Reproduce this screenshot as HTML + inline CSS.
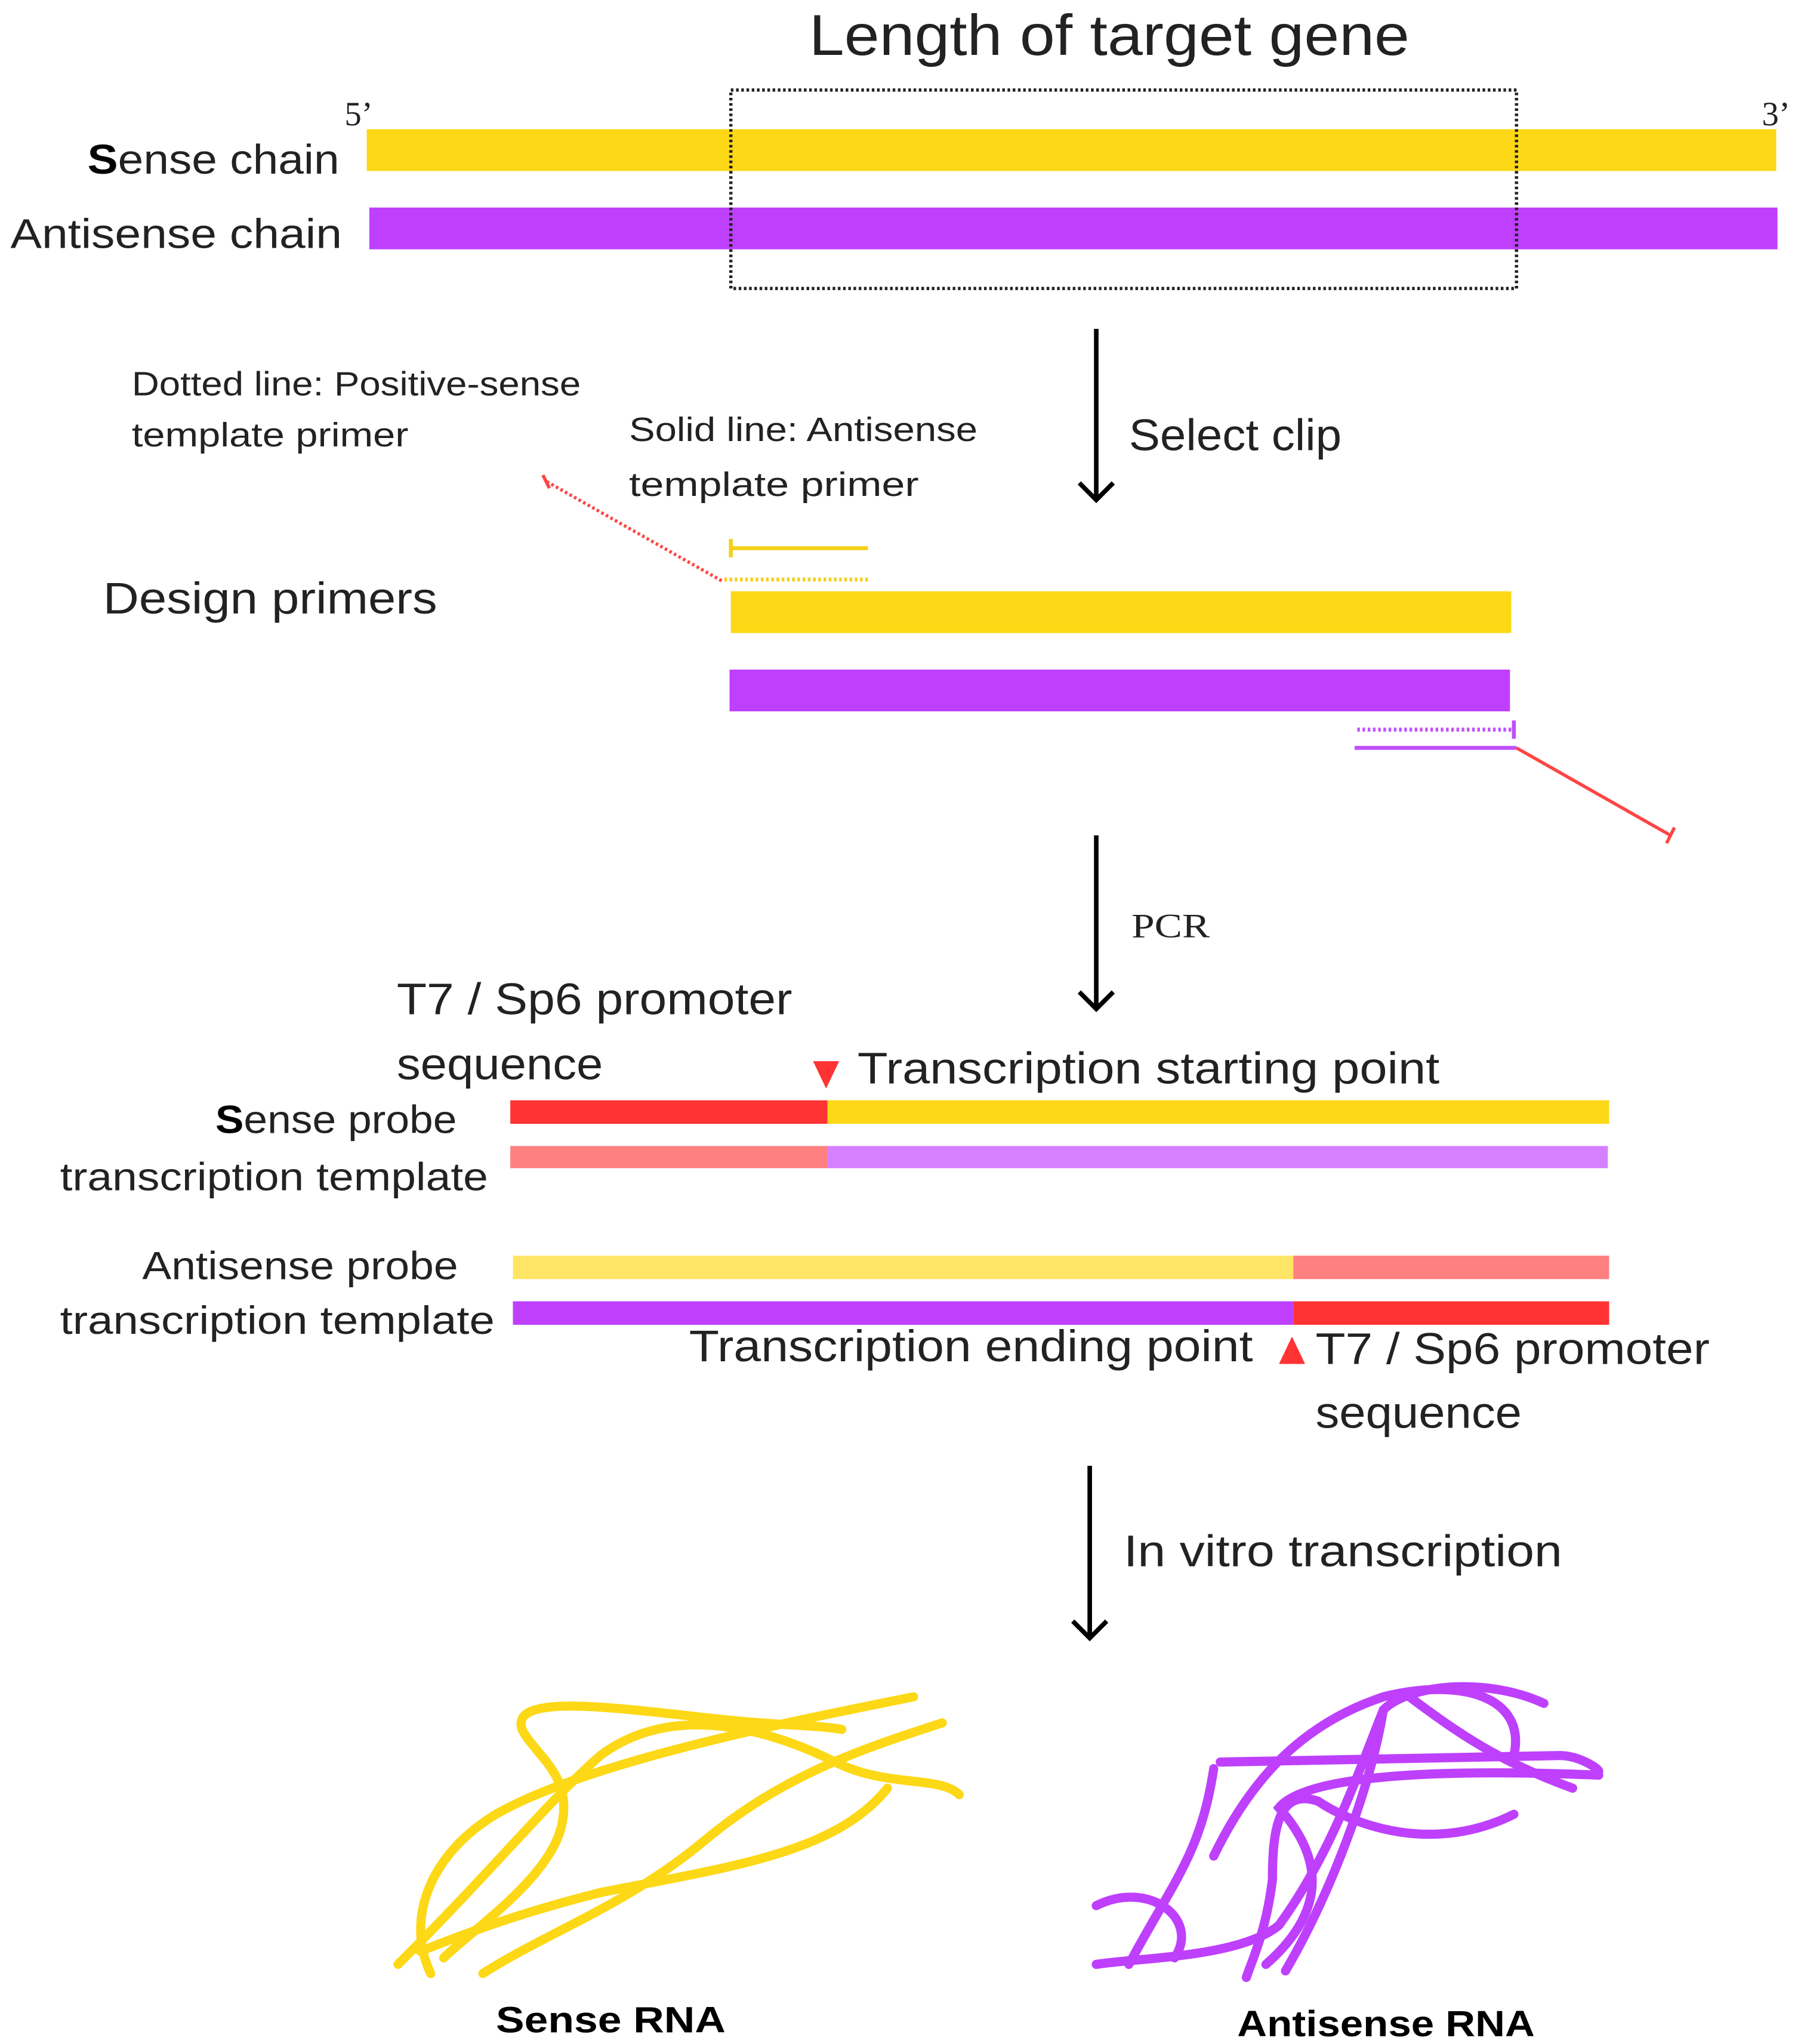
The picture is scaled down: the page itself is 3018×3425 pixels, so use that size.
<!DOCTYPE html>
<html><head><meta charset="utf-8"><style>html,body{margin:0;padding:0;background:#fff}svg{display:block}</style></head>
<body>
<svg width="3018" height="3425" viewBox="0 0 1380 1566" preserveAspectRatio="none" xmlns="http://www.w3.org/2000/svg">
<rect width="1380" height="1566" fill="#fff"/>
<g font-family="Liberation Sans, sans-serif" fill="#222">
<text x="620" y="42" font-size="44" textLength="460" lengthAdjust="spacingAndGlyphs">Length of target gene</text>
<text x="264" y="96" font-size="26" font-family="Liberation Serif, serif">5’</text>
<text x="1350" y="96" font-size="26" font-family="Liberation Serif, serif">3’</text>
<text x="67" y="133" font-size="32" textLength="193" lengthAdjust="spacingAndGlyphs"><tspan font-weight="bold" fill="#000">S</tspan>ense chain</text>
<text x="8" y="190" font-size="32" textLength="254" lengthAdjust="spacingAndGlyphs">Antisense chain</text>
<text x="101" y="303" font-size="26" textLength="344" lengthAdjust="spacingAndGlyphs">Dotted line: Positive-sense</text>
<text x="101" y="342" font-size="26" textLength="212" lengthAdjust="spacingAndGlyphs">template primer</text>
<text x="482" y="338" font-size="26" textLength="267" lengthAdjust="spacingAndGlyphs">Solid line: Antisense</text>
<text x="482" y="380" font-size="26" textLength="222" lengthAdjust="spacingAndGlyphs">template primer</text>
<text x="865" y="345" font-size="34" textLength="163" lengthAdjust="spacingAndGlyphs">Select clip</text>
<text x="79" y="470" font-size="34" textLength="256" lengthAdjust="spacingAndGlyphs">Design primers</text>
<text x="867" y="718" font-size="26" font-family="Liberation Serif, serif" textLength="60" lengthAdjust="spacingAndGlyphs">PCR</text>
<text x="304" y="777" font-size="34" textLength="303" lengthAdjust="spacingAndGlyphs">T7 / Sp6 promoter</text>
<text x="304" y="827" font-size="34" textLength="158" lengthAdjust="spacingAndGlyphs">sequence</text>
<text x="657" y="830" font-size="34" textLength="446" lengthAdjust="spacingAndGlyphs">Transcription starting point</text>
<text x="165" y="868" font-size="30" textLength="185" lengthAdjust="spacingAndGlyphs"><tspan font-weight="bold" fill="#000">S</tspan>ense probe</text>
<text x="46" y="912" font-size="30" textLength="328" lengthAdjust="spacingAndGlyphs">transcription template</text>
<text x="109" y="980" font-size="30" textLength="242" lengthAdjust="spacingAndGlyphs">Antisense probe</text>
<text x="46" y="1022" font-size="30" textLength="333" lengthAdjust="spacingAndGlyphs">transcription template</text>
<text x="528" y="1043" font-size="34" textLength="432" lengthAdjust="spacingAndGlyphs">Transcription ending point</text>
<text x="1008" y="1045" font-size="34" textLength="302" lengthAdjust="spacingAndGlyphs">T7 / Sp6 promoter</text>
<text x="1008" y="1094" font-size="34" textLength="158" lengthAdjust="spacingAndGlyphs">sequence</text>
<text x="861" y="1200" font-size="34" textLength="336" lengthAdjust="spacingAndGlyphs">In vitro transcription</text>
<text x="380" y="1557" font-size="28" font-weight="bold" fill="#000" textLength="176" lengthAdjust="spacingAndGlyphs">Sense RNA</text>
<text x="948" y="1560" font-size="28" font-weight="bold" fill="#000" textLength="228" lengthAdjust="spacingAndGlyphs">Antisense RNA</text>
</g>
<!-- chains -->
<rect x="281" y="99" width="1080" height="32" fill="#FDD816"/>
<rect x="283" y="159" width="1079" height="32" fill="#BE40FC"/>
<rect x="560" y="69" width="602" height="152" fill="none" stroke="#222" stroke-width="2.5" stroke-dasharray="2,2"/>
<!-- arrows -->
<g stroke="#000" stroke-width="3.5" fill="none">
<line x1="840" y1="252" x2="840" y2="382"/><polyline points="827,370 840,383 853,370"/>
<line x1="840" y1="640" x2="840" y2="772"/><polyline points="827,760 840,773 853,760"/>
<line x1="835" y1="1123" x2="835" y2="1254"/><polyline points="822,1242 835,1255 848,1242"/>
</g>
<!-- primers -->
<line x1="419" y1="369" x2="553" y2="445" stroke="#F44" stroke-width="2.5" stroke-dasharray="2,2"/>
<line x1="416" y1="364" x2="421" y2="374" stroke="#F44" stroke-width="2.5"/>
<line x1="560" y1="420" x2="665" y2="420" stroke="#F5CF1A" stroke-width="3"/>
<line x1="560" y1="413" x2="560" y2="427" stroke="#F5CF1A" stroke-width="3"/>
<line x1="555" y1="444" x2="665" y2="444" stroke="#F5CF1A" stroke-width="3" stroke-dasharray="2,2"/>
<rect x="560" y="453" width="598" height="32" fill="#FDD816"/>
<rect x="559" y="513" width="598" height="32" fill="#BE40FC"/>
<line x1="1040" y1="559" x2="1160" y2="559" stroke="#C050FC" stroke-width="3" stroke-dasharray="2,2"/>
<line x1="1160" y1="552" x2="1160" y2="566" stroke="#C050FC" stroke-width="3"/>
<line x1="1038" y1="573" x2="1162" y2="573" stroke="#C050FC" stroke-width="3"/>
<line x1="1162" y1="573" x2="1280" y2="640" stroke="#F44" stroke-width="2.5"/>
<line x1="1277" y1="646" x2="1283" y2="634" stroke="#F44" stroke-width="2.5"/>
<!-- templates -->
<rect x="391" y="843" width="243" height="18" fill="#FF3333"/>
<rect x="634" y="843" width="599" height="18" fill="#FDD816"/>
<rect x="391" y="878" width="243" height="17" fill="#FF8080"/>
<rect x="634" y="878" width="598" height="17" fill="#D580FF"/>
<rect x="393" y="962" width="598" height="18" fill="#FFE566"/>
<rect x="991" y="962" width="242" height="18" fill="#FF8080"/>
<rect x="393" y="997" width="598" height="18" fill="#BE40FC"/>
<rect x="991" y="997" width="242" height="18" fill="#FF3333"/>
<polygon points="623,813 643,813 633,834" fill="#FF3333"/>
<polygon points="980,1045 1000,1045 990,1024" fill="#FF3333"/>
<!-- RNA squiggles -->
<g fill="none" stroke="#FDD816" stroke-width="7" stroke-linecap="round">
<path d="M400,1325 C390,1295 480,1310 560,1318 C600,1322 630,1322 645,1325"/>
<path d="M400,1325 C410,1345 440,1360 430,1400 C420,1440 360,1480 340,1500"/>
<path d="M305,1505 C380,1430 420,1380 460,1345 C520,1300 600,1330 640,1350 C680,1370 720,1360 735,1375"/>
<path d="M700,1300 C600,1320 450,1350 380,1390 C330,1420 310,1470 330,1512"/>
<path d="M722,1320 C660,1340 600,1360 540,1410 C480,1460 420,1480 370,1512"/>
<path d="M680,1370 C640,1420 560,1430 460,1450 C400,1465 360,1480 322,1495"/>
</g>
<g fill="none" stroke="#BE40FC" stroke-width="7" stroke-linecap="round">
<path d="M930,1422 C960,1360 1000,1320 1060,1300 C1120,1285 1170,1300 1160,1345"/>
<path d="M1183,1305 C1140,1285 1080,1290 1060,1310 C1040,1360 1020,1420 980,1475 C950,1500 870,1500 840,1505"/>
<path d="M935,1350 L1195,1345 C1210,1345 1225,1355 1225,1357"/>
<path d="M930,1355 C920,1420 900,1440 865,1505"/>
<path d="M1160,1390 C1100,1420 1040,1400 1010,1380 C980,1370 975,1400 975,1440 C970,1480 960,1500 955,1515"/>
<path d="M1225,1360 C1100,1355 1000,1360 980,1385 C1020,1430 1010,1470 970,1505"/>
<path d="M1080,1300 C1120,1330 1150,1350 1205,1370"/>
<path d="M1060,1310 C1050,1370 1020,1450 985,1510"/>
<path d="M840,1460 C880,1440 920,1470 900,1500"/>
</g>
</svg>
</body></html>
